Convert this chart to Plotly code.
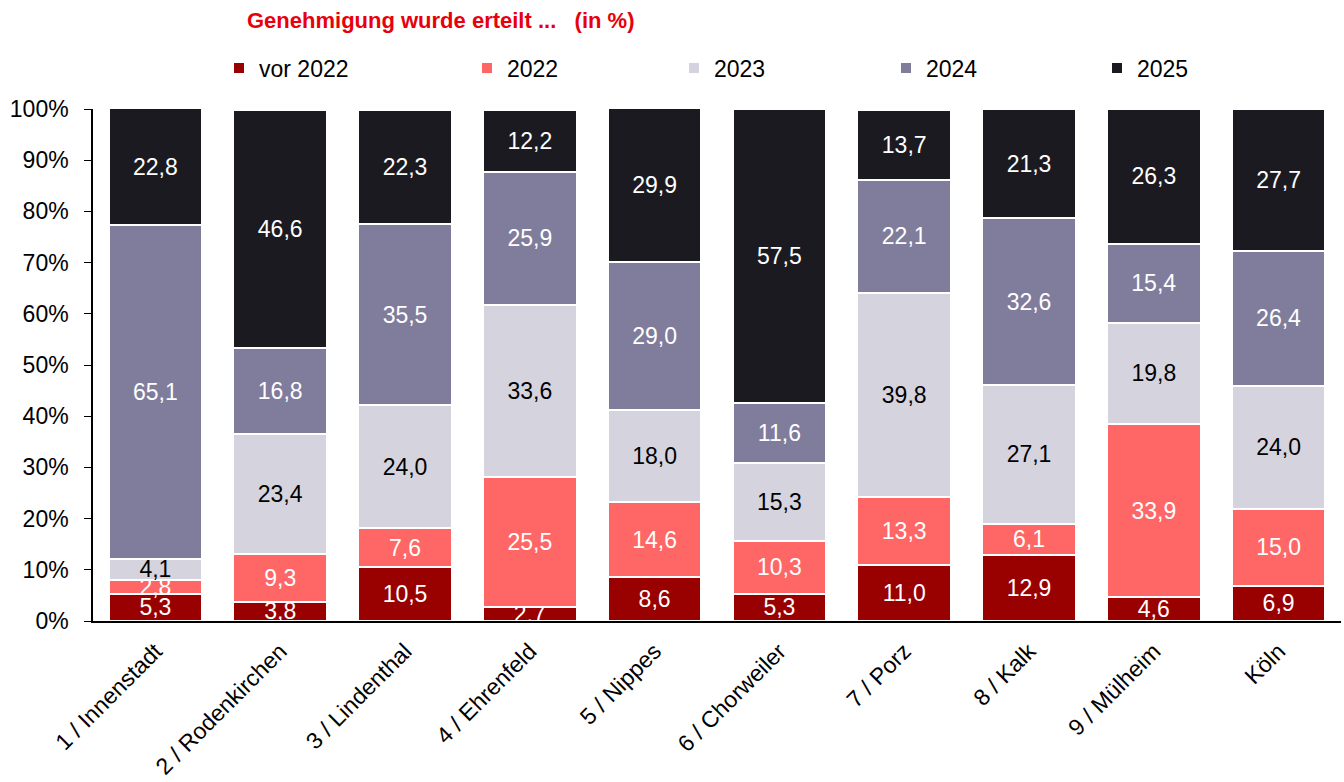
import plotly.graph_objects as go

districts = ["1 / Innenstadt", "2 / Rodenkirchen", "3 / Lindenthal", "4 / Ehrenfeld",
             "5 / Nippes", "6 / Chorweiler", "7 / Porz", "8 / Kalk", "9 / Mülheim", "Köln"]

vor_2022 = [5.3, 3.8, 10.5, 2.7, 8.6, 5.3, 11.0, 12.9, 4.6, 6.9]
y_2022 = [2.8, 9.3, 7.6, 25.5, 14.6, 10.3, 13.3, 6.1, 33.9, 15.0]
y_2023 = [4.1, 23.4, 24.0, 33.6, 18.0, 15.3, 39.8, 27.1, 19.8, 24.0]
y_2024 = [65.1, 16.8, 35.5, 25.9, 29.0, 11.6, 22.1, 32.6, 15.4, 26.4]
y_2025 = [22.8, 46.6, 22.3, 12.2, 29.9, 57.5, 13.7, 21.3, 26.3, 27.7]

series = [
    ("vor 2022", vor_2022, "#990000", "white"),
    ("2022", y_2022, "#ff6666", "white"),
    ("2023", y_2023, "#d5d4de", "black"),
    ("2024", y_2024, "#807c9c", "white"),
    ("2025", y_2025, "#1b1a21", "white"),
]

FONT = "Liberation Sans"
W, H = 1344, 782
ML, MR, MT, MB = 93, 3, 109, 161
plot_w = W - ML - MR
plot_h = H - MT - MB

# pixel x where each legend entry's text begins
legend_text_px = [257, 505, 712, 924, 1135]
legend_y = (H - MB - 68) / plot_h

fig = go.Figure()
legend_layouts = {}
for i, (name, vals, color, txtcol) in enumerate(series):
    lname = "legend" if i == 0 else f"legend{i + 1}"
    fig.add_trace(go.Bar(
        x=districts, y=vals, name=name, legend=lname,
        marker=dict(color=color, line=dict(color="white", width=2)),
        texttemplate="%{y:.1f}", textposition="inside", insidetextanchor="middle",
        textangle=0, constraintext="none",
        textfont=dict(color=txtcol, size=23, family=FONT),
    ))
    legend_layouts[lname] = dict(
        orientation="h", x=(legend_text_px[i] - 38 - ML) / plot_w, xanchor="left",
        y=legend_y, yanchor="middle", bgcolor="rgba(0,0,0,0)",
        font=dict(size=23, family=FONT, color="black"), itemwidth=30,
    )

fig.update_layout(
    barmode="stack", bargap=0.25,
    width=W, height=H,
    margin=dict(l=ML, r=MR, t=MT, b=MB),
    paper_bgcolor="white", plot_bgcolor="white",
    separators=",.",
    uniformtext=dict(minsize=23, mode="show"),
    font=dict(family=FONT, size=23, color="black"),
    showlegend=True,
    annotations=[dict(text="<b>Genehmigung wurde erteilt ...   (in %)</b>",
                      xref="paper", yref="paper", x=(245 - ML) / plot_w, xanchor="left",
                      y=(H - MB - 20) / plot_h, yanchor="middle", showarrow=False,
                      font=dict(color="#e8000b", size=22, family=FONT))],
    **legend_layouts,
)
fig.update_yaxes(range=[0, 100], tickvals=list(range(0, 101, 10)),
                 ticktext=[f"{v}%" for v in range(0, 101, 10)],
                 showgrid=False, zeroline=False, showline=True, linecolor="black",
                 linewidth=1.5, ticks="outside", ticklen=7, tickcolor="black",
                 ticklabelstandoff=11, tickfont=dict(size=23))
fig.update_xaxes(showgrid=False, showline=True, linecolor="black", linewidth=1.5,
                 tickangle=-45, tickfont=dict(size=23), ticks="",
                 ticklabelstandoff=6)

fig.write_html("out.html")
